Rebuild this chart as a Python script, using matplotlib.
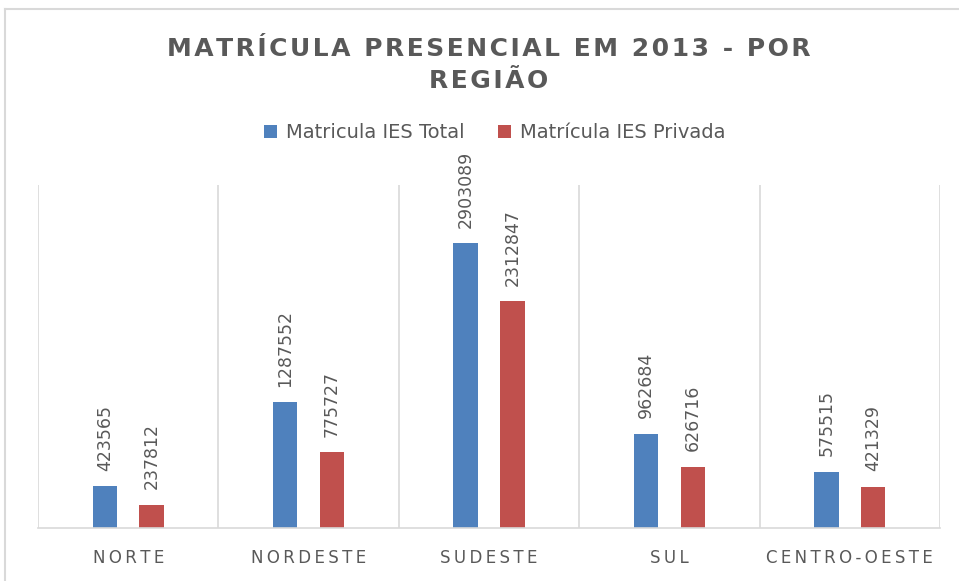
import matplotlib.pyplot as plt
import numpy as np
from matplotlib.lines import Line2D

# Dados
regioes = ['NORTE', 'NORDESTE', 'SUDESTE', 'SUL', 'CENTRO-OESTE']
ies_total = [423565, 1287552, 2903089, 962684, 575515]
ies_privada = [237812, 775727, 2312847, 626716, 421329]
series = ['Matricula IES Total', 'Matrícula IES Privada']
titulo = ['MATRÍCULA PRESENCIAL EM 2013 - POR', 'REGIÃO']

azul = '#4F81BD'
vermelho = '#C0504D'
cinza = '#595959'
linha = '#D9D9D9'

fig = plt.figure(figsize=(9.59, 5.81), dpi=100)
W, H = 959, 581

# borda do gráfico (só topo e esquerda aparecem)
fig.lines.append(Line2D([5 / W, 5 / W], [0, (H - 9) / H], transform=fig.transFigure,
                        color=linha, linewidth=1.5))
fig.lines.append(Line2D([5 / W, 1], [(H - 9) / H, (H - 9) / H], transform=fig.transFigure,
                        color=linha, linewidth=1.5))

ax = fig.add_axes([38 / W, (H - 528) / H, (940 - 38) / W, (528 - 185) / H])

x = np.arange(len(regioes))
larg = 0.135
b1 = ax.bar(x - 0.13, ies_total, larg, color=azul, label=series[0])
b2 = ax.bar(x + 0.13, ies_privada, larg, color=vermelho, label=series[1])

for barras in (b1, b2):
    for b in barras:
        ax.annotate(str(int(b.get_height())),
                    (b.get_x() + b.get_width() / 2, b.get_height()),
                    xytext=(0, 11), textcoords='offset points',
                    rotation=90, ha='center', va='bottom',
                    color=cinza, fontsize=12.5)

ax.set_xlim(-0.5, len(regioes) - 0.5)
ax.set_ylim(0, 3500000)
ax.set_yticks([])
ax.set_xticks(x)
ax.set_xticklabels(['\u2009'.join(r) for r in regioes], color=cinza, fontsize=12)
ax.tick_params(axis='x', length=0, pad=15)
ax.set_xticks(np.arange(-0.5, len(regioes)), minor=True)
ax.tick_params(axis='x', which='minor', length=0)
ax.grid(axis='x', which='minor', color=linha, linewidth=1.2)
for s in ['top', 'left', 'right']:
    ax.spines[s].set_visible(False)
ax.spines['bottom'].set_color(linha)
ax.spines['bottom'].set_linewidth(1.2)

# título com espaçamento entre letras
txt = '\n'.join('\u200a'.join(l) for l in titulo)
fig.text(0.510, (H - 65) / H, txt,
         ha='center', va='center', fontsize=18, fontweight='bold',
         color=cinza, linespacing=1.42)

fig.legend(loc='center', bbox_to_anchor=(0.516, (H - 133) / H), ncol=2,
           frameon=False, fontsize=14, labelcolor=cinza,
           handlelength=0.65, handleheight=0.65, columnspacing=1.7,
           handletextpad=0.5)

fig.savefig('out.png', dpi=100, facecolor='white')
